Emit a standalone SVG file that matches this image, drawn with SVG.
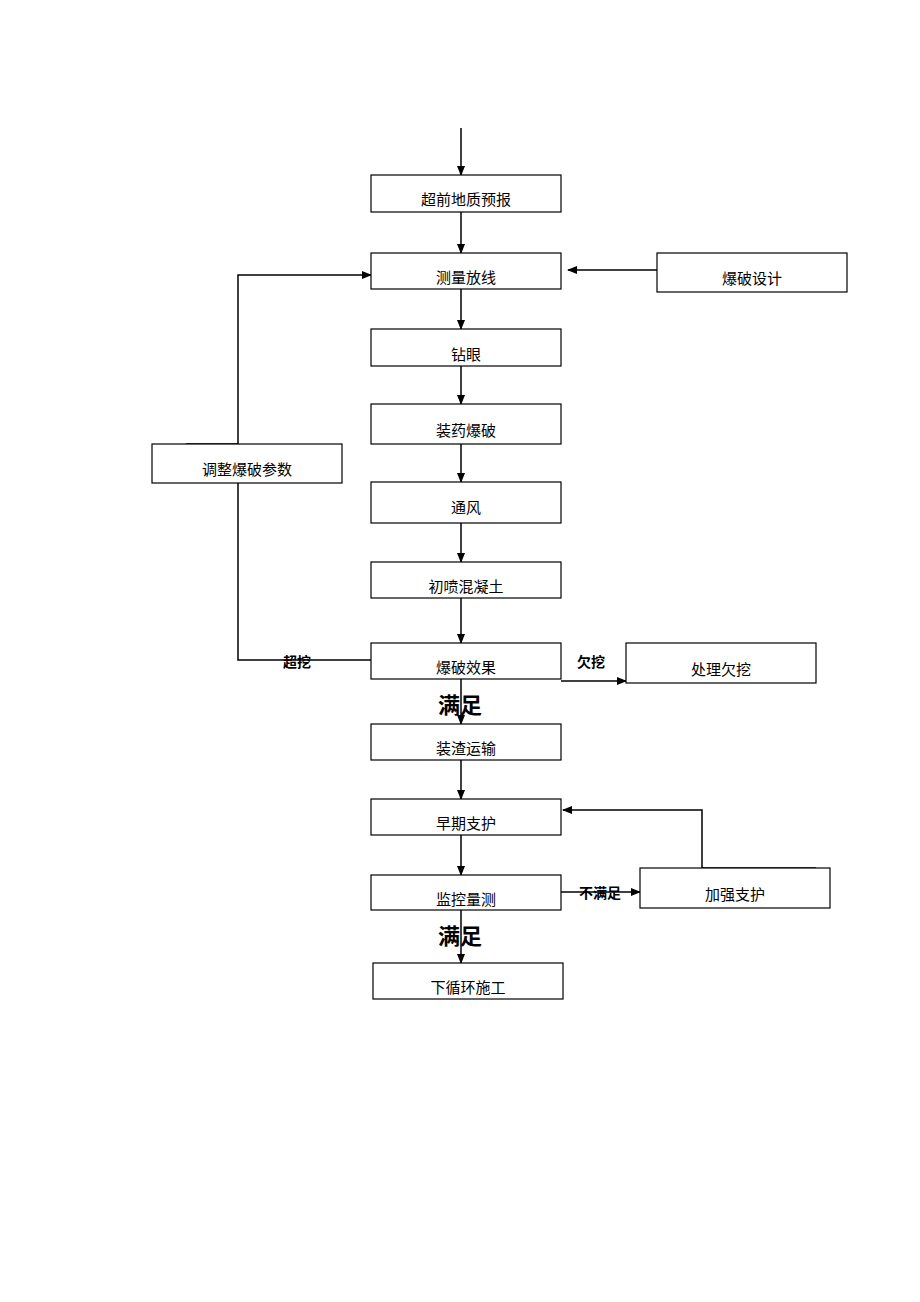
<svg xmlns="http://www.w3.org/2000/svg" width="920" height="1302" viewBox="0 0 920 1302">
<style>
.b{fill:#fff;stroke:#000;stroke-width:1.2}
.t{font-family:"Liberation Serif","Noto Sans CJK SC",serif;font-size:15px;text-anchor:middle;fill:#000}
.l{font-family:"Liberation Sans","Noto Sans CJK SC",sans-serif;font-weight:bold;font-size:14px;text-anchor:middle;fill:#000}
.L{font-family:"Liberation Sans","Noto Sans CJK SC",sans-serif;font-weight:bold;font-size:22px;text-anchor:middle;fill:#000}
.c{fill:none;stroke:#000;stroke-width:1.5}
</style>
<defs><marker id="a" markerWidth="10" markerHeight="8" refX="9" refY="4" orient="auto" markerUnits="userSpaceOnUse"><path d="M0,0L10,4L0,8z"/></marker></defs>
<rect width="920" height="1302" fill="#fff"/>
<g id="connectors">
<path class="c" d="M461,128V175" marker-end="url(#a)"/>
<path class="c" d="M461,212V253" marker-end="url(#a)"/>
<path class="c" d="M461,289V329" marker-end="url(#a)"/>
<path class="c" d="M461,366V404" marker-end="url(#a)"/>
<path class="c" d="M461,444V482" marker-end="url(#a)"/>
<path class="c" d="M461,523V562" marker-end="url(#a)"/>
<path class="c" d="M461,598V643" marker-end="url(#a)"/>
<path class="c" d="M461,679V724" marker-end="url(#a)"/>
<path class="c" d="M461,760V799" marker-end="url(#a)"/>
<path class="c" d="M461,835V875" marker-end="url(#a)"/>
<path class="c" d="M461,910V963" marker-end="url(#a)"/>
<path class="c" d="M657,270H568" marker-end="url(#a)"/>
<path class="c" d="M186,444H238V275H371" marker-end="url(#a)"/>
<path class="c" d="M238,483V660H371"/>
<path class="c" d="M561,681H626" marker-end="url(#a)"/>
<path class="c" d="M561,892H640" marker-end="url(#a)"/>
<path class="c" d="M816,868H702V810H563" marker-end="url(#a)"/>
</g>
<g id="n1"><rect class="b" x="371" y="175" width="190" height="37"/><text class="t" x="466" y="205">超前地质预报</text></g>
<g id="n2"><rect class="b" x="371" y="253" width="190" height="36"/><text class="t" x="466" y="283">测量放线</text></g>
<g id="n3"><rect class="b" x="371" y="329" width="190" height="37"/><text class="t" x="466" y="360">钻眼</text></g>
<g id="n4"><rect class="b" x="371" y="404" width="190" height="40"/><text class="t" x="466" y="436">装药爆破</text></g>
<g id="n5"><rect class="b" x="371" y="482" width="190" height="41"/><text class="t" x="466" y="513">通风</text></g>
<g id="n6"><rect class="b" x="371" y="562" width="190" height="36"/><text class="t" x="466" y="592">初喷混凝土</text></g>
<g id="n7"><rect class="b" x="371" y="643" width="190" height="36"/><text class="t" x="466" y="673">爆破效果</text></g>
<g id="n8"><rect class="b" x="371" y="724" width="190" height="36"/><text class="t" x="466" y="754">装渣运输</text></g>
<g id="n9"><rect class="b" x="371" y="799" width="190" height="36"/><text class="t" x="466" y="829">早期支护</text></g>
<g id="n10"><rect class="b" x="371" y="875" width="190" height="35"/><text class="t" x="466" y="905">监控量测</text></g>
<g id="n11"><rect class="b" x="373" y="963" width="190" height="36"/><text class="t" x="468" y="993">下循环施工</text></g>
<g id="n12"><rect class="b" x="657" y="253" width="190" height="39"/><text class="t" x="752" y="284">爆破设计</text></g>
<g id="n13"><rect class="b" x="152" y="444" width="190" height="39"/><text class="t" x="247" y="475">调整爆破参数</text></g>
<g id="n14"><rect class="b" x="626" y="643" width="190" height="40"/><text class="t" x="721" y="675">处理欠挖</text></g>
<g id="n15"><rect class="b" x="640" y="868" width="190" height="40"/><text class="t" x="735" y="900">加强支护</text></g>
<g id="labels">
<text class="l" x="297" y="667">超挖</text>
<text class="l" x="591" y="667">欠挖</text>
<text class="L" x="460" y="713">满足</text>
<text class="l" x="600" y="898">不满足</text>
<text class="L" x="460" y="944">满足</text>
</g>
</svg>
